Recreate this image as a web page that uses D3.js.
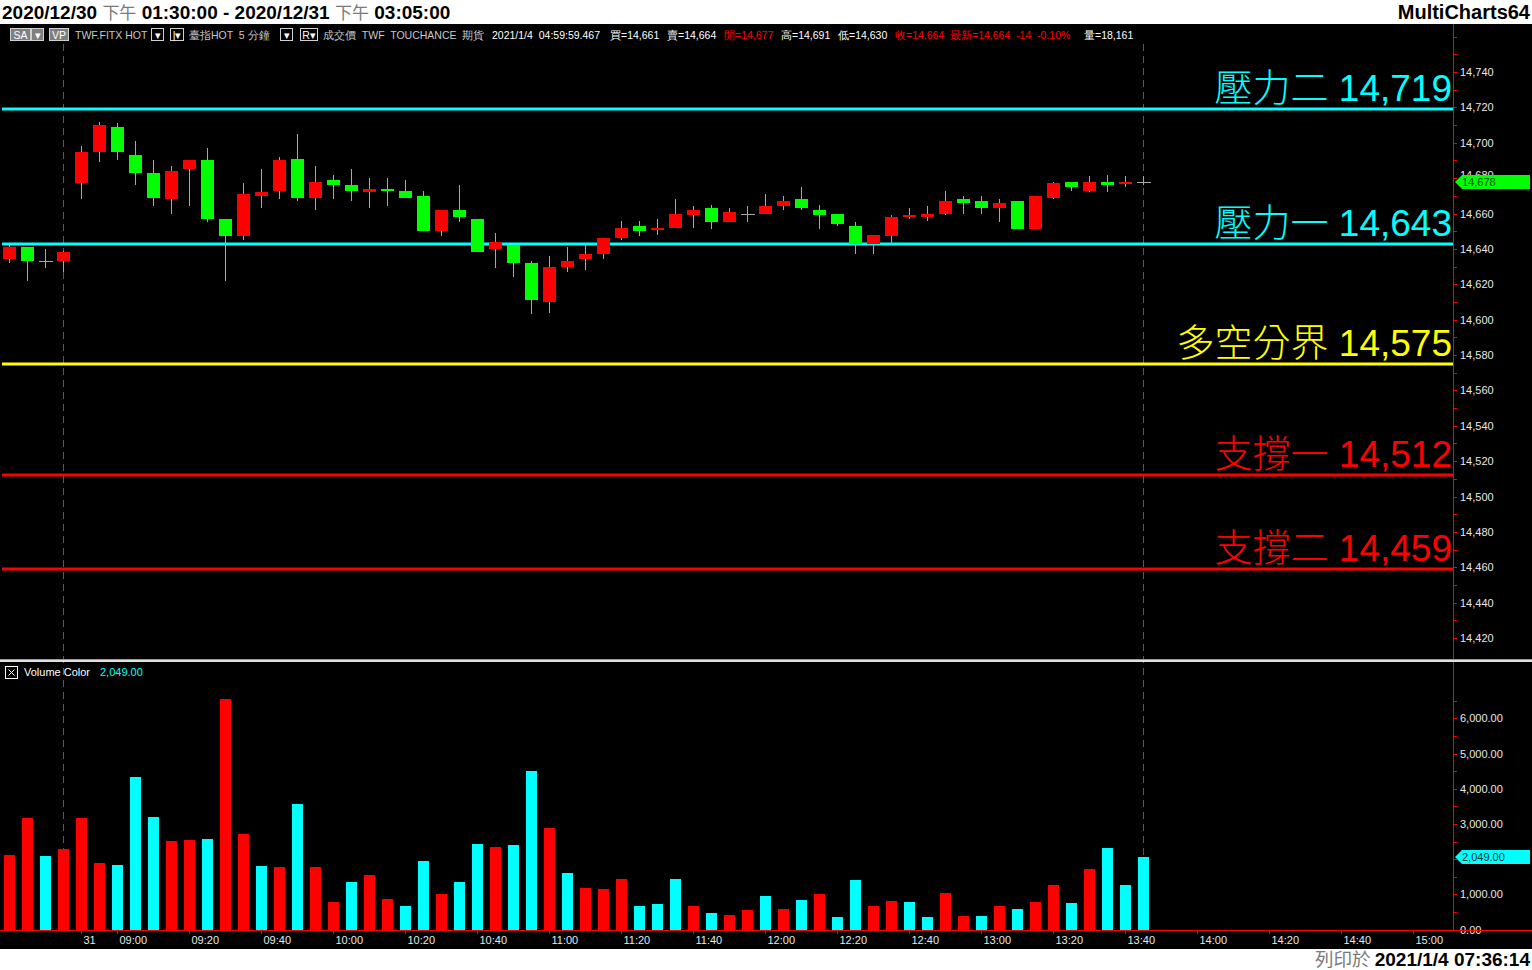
<!DOCTYPE html>
<html><head><meta charset="utf-8">
<script src="https://cdn.jsdelivr.net/npm/d3@7/dist/d3.min.js"></script>
<style>
body{margin:0;background:#fff;overflow:hidden}
svg{display:block}
text{font-family:"Liberation Sans",Arial,sans-serif}
</style>
</head><body>
<svg id="chart" width="1532" height="970"></svg>
<script>
// ---------------- DATA ----------------
const opens  = [14634,14641,14633,14633,14677,14695,14709,14693,14683,14668,14685,14690,14657,14647,14670,14673,14691,14669,14679,14676,14672,14674,14673,14670,14650,14662,14657,14640,14642,14632,14610,14630,14634,14637,14646,14653,14651,14652,14659,14663,14655,14660,14660,14664,14668,14662,14660,14653,14643,14647,14658,14658,14660,14668,14667,14663,14667,14651,14669,14678,14673,14678,14677,14678];
const highs  = [14642,14641,14640,14639,14698,14712,14711,14701,14690,14687,14690,14697,14657,14677,14685,14692,14705,14687,14682,14685,14680,14680,14679,14673,14662,14676,14657,14649,14642,14633,14636,14641,14642,14646,14656,14656,14657,14668,14664,14665,14663,14664,14671,14670,14675,14665,14660,14655,14648,14659,14663,14664,14673,14670,14670,14668,14667,14670,14678,14678,14681,14682,14681,14681];
const lows   = [14632,14622,14629,14627,14668,14689,14690,14676,14664,14660,14664,14655,14622,14645,14663,14668,14667,14662,14668,14667,14663,14664,14669,14650,14647,14655,14638,14629,14624,14603,14604,14627,14628,14634,14645,14647,14648,14652,14652,14651,14655,14655,14660,14662,14662,14651,14653,14637,14637,14643,14657,14656,14659,14660,14660,14655,14651,14651,14668,14673,14672,14672,14675,14676];
const closes = [14641,14633,14633,14638,14695,14710,14695,14683,14669,14684,14690,14657,14647,14671,14672,14690,14669,14678,14676,14673,14674,14673,14669,14650,14662,14658,14638,14644,14632,14611,14630,14633,14637,14646,14652,14650,14652,14660,14662,14655,14661,14660,14664,14667,14663,14659,14654,14643,14648,14658,14659,14660,14667,14666,14663,14666,14651,14670,14677,14675,14678,14676,14678,14678];
const volumes = [2116,3168,2088,2287,3168,1889,1832,4332,3196,2514,2543,2571,6548,2713,1804,1776,3565,1776,781,1349,1548,866,668,1946,1009,1349,2429,2344,2401,4503,2884,1605,1179,1150,1435,668,724,1435,668,469,412,554,952,582,838,1009,355,1406,668,810,781,355,1037,384,384,668,582,781,1264,753,1719,2315,1264,2049];
const volumeUp = ["r","r","c","r","r","r","c","c","c","r","r","c","r","r","c","r","c","r","r","c","r","r","c","c","r","c","c","r","c","c","r","c","r","r","r","c","c","c","r","c","r","r","c","r","c","r","c","c","r","r","c","c","r","r","c","r","c","r","r","c","r","c","c","c"];
const levelNames  = ["壓力二","壓力一","多空分界","支撐一","支撐二"];
const levelValues = [14719,14643,14575,14512,14459];
const priceTicks  = [14420,14440,14460,14480,14500,14520,14540,14560,14580,14600,14620,14640,14660,14680,14700,14720,14740];
const volumeTicks = [0,1000,2000,3000,4000,5000,6000];
const timeTickLabels = ["31","09:00","09:20","09:40","10:00","10:20","10:40","11:00","11:20","11:40","12:00","12:20","12:40","13:00","13:20","13:40","14:00","14:20","14:40","15:00"];
const lastPrice = 14678;
const lastVolume = 2049;
const sessionBreakBars = [3,63];

// ---------------- STYLE ----------------
const RED="#ff0000", GREEN="#00ff00", CYAN="#00ffff", YELLOW="#ffff00", WICK="#a8a8a8";
const levelColors=[CYAN,CYAN,YELLOW,RED,RED];
const W=1532,H=970, axisX=1453;

const svg=d3.select("#chart");
svg.append("rect").attr("width",W).attr("height",H).attr("fill","#fff");
svg.append("rect").attr("x",0).attr("y",24).attr("width",W).attr("height",925).attr("fill","#000");

// scales
const x=d3.scaleLinear().domain([0,1]).range([9.5,27.5]);
const y=d3.scaleLinear().domain([14420,14740]).range([638,72]);
const yv=d3.scaleLinear().domain([0,6000]).range([929.5,718.3]);

function barIndex(lbl){
  if(lbl==="31") return 4;
  const [h,m]=lbl.split(":").map(Number);
  return (h*60+m-(8*60+50))/5+4;
}

// ---------- header ----------
const hdr=svg.append("text").attr("x",2).attr("y",19).attr("font-size",19).attr("fill","#000");
[["2020/12/30 ",true],["下午",false],[" 01:30:00 - 2020/12/31 ",true],["下午",false],[" 03:05:00",true]].forEach(([t,b])=>{
  hdr.append("tspan").text(t).attr("font-weight",b?"bold":"normal")
    .attr("fill",b?"#000":"#7a7a7a").attr("font-size",b?19:17)
    .attr("font-family",b?"'Liberation Sans',Arial,sans-serif":"'Noto Sans CJK TC',sans-serif");
});
svg.append("text").attr("x",1530).attr("y",18.5).attr("text-anchor","end").attr("font-size",20)
  .attr("font-weight","bold").attr("fill","#000").attr("font-family","'DejaVu Sans Condensed','Liberation Sans',sans-serif").text("MultiCharts64");

// footer
const ft=svg.append("text").attr("x",1530).attr("y",966).attr("text-anchor","end").attr("font-size",19);
ft.append("tspan").text("列印於 ").attr("fill","#7a7a7a").attr("font-family","'Noto Sans CJK TC',sans-serif").attr("font-size",18.5);
ft.append("tspan").text("2021/1/4 07:36:14").attr("fill","#000").attr("font-weight","bold");

// ---------- info line ----------
const info=svg.append("g").attr("font-size",10.5);
function box(x0,w,label,fill){
  info.append("rect").attr("x",x0+0.5).attr("y",28.5).attr("width",w).attr("height",12).attr("fill",fill).attr("stroke","#d0d0d0");
  info.append("text").attr("x",x0+w/2+0.5).attr("y",38.5).attr("text-anchor","middle").attr("fill","#fff").text(label);
}
box(10,20,"SA","#808080"); box(31,12,"▾","#808080"); box(49,19,"VP","#808080");
box(151,12,"▾","#000"); box(170,13,"|▾","#000"); box(280,12,"▾","#000"); box(300,17,"R▾","#000");
const infoTexts=[
  [75,"TWF.FITX HOT","#c8c8c8"],[189,"臺指HOT  5 分鐘","#c8c8c8"],[323,"成交價  TWF  TOUCHANCE  期貨","#c8c8c8"],
  [492,"2021/1/4  04:59:59.467","#fff"],[610,"買=14,661","#fff"],[667,"賣=14,664","#fff"],[724,"開=14,677",RED],
  [781,"高=14,691","#fff"],[838,"低=14,630","#fff"],[895,"收=14,664",RED],[950,"最新=14,664  -14  -0.10%",RED],[1084,"量=18,161","#fff"]];
infoTexts.forEach(([xx,t,c])=>info.append("text").attr("x",xx).attr("y",38.5).attr("fill",c).attr("xml:space","preserve").text(t));

// ---------- dashed session lines ----------
sessionBreakBars.forEach(b=>{
  svg.append("line").attr("x1",Math.floor(x(b))+0.5).attr("x2",Math.floor(x(b))+0.5).attr("y1",44).attr("y2",930)
    .attr("stroke","#5a5a5a").attr("stroke-dasharray","7,5");
});

// ---------- level lines ----------
levelValues.forEach((v,i)=>{
  const yy=Math.round(y(v));
  svg.append("rect").attr("x",2).attr("y",yy-1.5).attr("width",axisX-2).attr("height",3).attr("fill",levelColors[i]);
  const t=svg.append("text").attr("x",1452).attr("y",yy-8).attr("text-anchor","end").attr("fill",levelColors[i]).attr("font-size",37);
  t.append("tspan").text(levelNames[i]).attr("font-family","'Noto Sans CJK TC',sans-serif").attr("font-weight",300).attr("font-size",38);
  t.append("tspan").text(" "+d3.format(",")(v)).attr("font-family","'Liberation Sans',Arial,sans-serif");
});

// ---------- candles ----------
const idx=d3.range(opens.length);
const cg=svg.append("g").attr("shape-rendering","crispEdges");
cg.selectAll("line.w").data(idx).join("line").attr("class","w")
  .attr("x1",i=>Math.floor(x(i))+0.5).attr("x2",i=>Math.floor(x(i))+0.5)
  .attr("y1",i=>y(highs[i])).attr("y2",i=>y(lows[i])).attr("stroke",WICK);
cg.selectAll("rect.b").data(idx.filter(i=>opens[i]!==closes[i])).join("rect").attr("class","b")
  .attr("x",i=>x(i)-6.5).attr("width",13)
  .attr("y",i=>y(Math.max(opens[i],closes[i])))
  .attr("height",i=>Math.max(2,Math.abs(y(opens[i])-y(closes[i]))))
  .attr("fill",i=>closes[i]>opens[i]?RED:GREEN);
cg.selectAll("line.d").data(idx.filter(i=>opens[i]===closes[i])).join("line").attr("class","d")
  .attr("x1",i=>x(i)-7).attr("x2",i=>x(i)+7).attr("y1",i=>Math.round(y(closes[i]))+0.5).attr("y2",i=>Math.round(y(closes[i]))+0.5)
  .attr("stroke",WICK);

// ---------- price axis ----------
svg.append("line").attr("x1",axisX+0.5).attr("x2",axisX+0.5).attr("y1",24).attr("y2",930).attr("stroke",RED);
const pa=svg.append("g").attr("shape-rendering","crispEdges");
d3.range(14410,14770,10).forEach(v=>{
  const yy=Math.round(y(v))+0.5;
  if(yy<26||yy>656) return;
  pa.append("line").attr("x1",axisX).attr("x2",axisX+4).attr("y1",yy).attr("y2",yy).attr("stroke",RED);
});
svg.append("clipPath").attr("id","clipTop").append("rect").attr("x",1455).attr("y",160).attr("width",80).attr("height",15);
priceTicks.forEach(v=>{
  const t=svg.append("text").attr("x",1460).attr("y",y(v)+4).attr("font-size",11).attr("fill","#e8e8e8").text(d3.format(",")(v));
  if(v===14680) t.attr("y",y(v)+1).attr("clip-path","url(#clipTop)");
});
// last price marker
(function(){
  const yy=Math.round(y(lastPrice));
  svg.append("path").attr("d",`M${axisX+2},${yy} L${axisX+9},${yy-7} L1530,${yy-7} L1530,${yy+7} L${axisX+9},${yy+7} Z`).attr("fill",GREEN);
  svg.append("text").attr("x",1462).attr("y",yy+4).attr("font-size",11).attr("fill","#005000").text(d3.format(",")(lastPrice));
})();

// ---------- separator ----------
svg.append("rect").attr("x",0).attr("y",659).attr("width",W).attr("height",1).attr("fill","#9a9a9a");
svg.append("rect").attr("x",0).attr("y",660).attr("width",W).attr("height",2).attr("fill","#e0e0e0");

// ---------- volume ----------
const vg=svg.append("g").attr("shape-rendering","crispEdges");
vg.selectAll("rect").data(idx).join("rect")
  .attr("x",i=>x(i)-5.5).attr("width",11)
  .attr("y",i=>yv(volumes[i])).attr("height",i=>yv(0)-yv(volumes[i]))
  .attr("fill",i=>volumeUp[i]==="r"?RED:CYAN);
d3.range(0,6600,500).forEach(v=>{
  const yy=Math.round(yv(v))+0.5;
  vg.append("line").attr("x1",axisX).attr("x2",axisX+4).attr("y1",yy).attr("y2",yy).attr("stroke",RED);
});
volumeTicks.forEach(v=>{
  if(v===2000) return;
  svg.append("text").attr("x",1460).attr("y",yv(v)+4).attr("font-size",11).attr("fill","#e8e8e8").text(d3.format(",.2f")(v));
});
(function(){
  const yy=Math.round(yv(lastVolume));
  svg.append("path").attr("d",`M${axisX+2},${yy} L${axisX+9},${yy-7} L1530,${yy-7} L1530,${yy+7} L${axisX+9},${yy+7} Z`).attr("fill",CYAN);
  svg.append("text").attr("x",1462).attr("y",yy+4).attr("font-size",11).attr("fill","#003030").text(d3.format(",.2f")(lastVolume));
})();
// legend
svg.append("rect").attr("x",5.5).attr("y",666.5).attr("width",12).attr("height",12).attr("fill","none").attr("stroke","#fff");
svg.append("path").attr("d","M8.5,669.5 L14.5,675.5 M14.5,669.5 L8.5,675.5").attr("stroke","#fff");
svg.append("text").attr("x",24).attr("y",676).attr("font-size",11).attr("fill","#fff").text("Volume Color");
svg.append("text").attr("x",100).attr("y",676).attr("font-size",11).attr("fill",CYAN).text(d3.format(",.2f")(lastVolume));

// ---------- time axis ----------
svg.append("rect").attr("x",0).attr("y",930).attr("width",W).attr("height",1).attr("fill",RED);
timeTickLabels.forEach(l=>{
  const xx=Math.floor(x(barIndex(l)))+0.5;
  svg.append("line").attr("x1",xx).attr("x2",xx).attr("y1",931).attr("y2",934).attr("stroke",RED);
  svg.append("text").attr("x",xx+2).attr("y",944).attr("font-size",11).attr("fill","#e8e8e8").text(l);
});
</script>
</body></html>
